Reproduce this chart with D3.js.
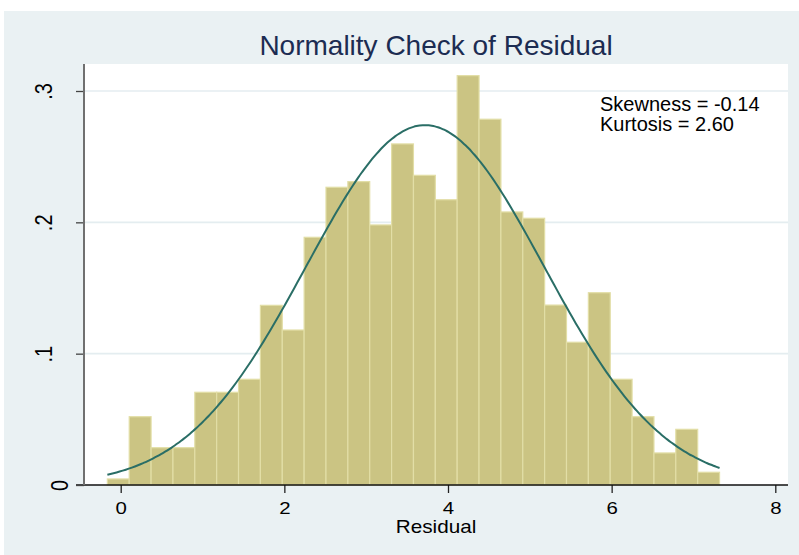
<!DOCTYPE html>
<html>
<head>
<meta charset="utf-8">
<script src="https://cdn.jsdelivr.net/npm/d3@7"></script>
<style>
  body { margin: 0; background: #ffffff; }
  text { font-family: "Liberation Sans", Arial, sans-serif; }
</style>
</head>
<body>
<div id="chart"></div>
<script>
// histogram of residuals (density scale)
var binStart = -0.163;
var binWidth = 0.2672;
var densities = [0.0046, 0.052, 0.0284, 0.0284, 0.0706, 0.0706, 0.0805, 0.1368,
  0.118, 0.1886, 0.2267, 0.231, 0.198, 0.2597, 0.2358, 0.2172, 0.3117, 0.2785,
  0.2079, 0.2031, 0.137, 0.1087, 0.1464, 0.0805, 0.052, 0.0244, 0.0424, 0.0097];
// fitted normal curve parameters
var normMean = 3.72;
var normSd = 1.456;
var xTicks = [0, 2, 4, 6, 8];
var yTicks = [0, 0.1, 0.2, 0.3];
var titleText = "Normality Check of Residual";
var xLabel = "Residual";
var statLines = ["Skewness = -0.14", "Kurtosis = 2.60"];

var svgWidth = 799;
var svgHeight = 555;
// plot region
var plot = { left: 84, right: 788, top: 64, bottom: 485 };

var svg = d3.select("#chart")
  .append("svg")
  .attr("width", svgWidth)
  .attr("height", svgHeight);

// outer graph region
svg.append("rect")
  .attr("x", 4).attr("y", 11)
  .attr("width", svgWidth - 4).attr("height", svgHeight - 11)
  .attr("fill", "#eaf1f3");

svg.append("rect")
  .attr("x", plot.left).attr("y", plot.top)
  .attr("width", plot.right - plot.left).attr("height", plot.bottom - plot.top)
  .attr("fill", "#ffffff");

var x = d3.scaleLinear()
  .domain([0, 8])
  .range([120.7, 775.3]);

var y = d3.scaleLinear()
  .domain([0, 0.3])
  .range([plot.bottom, 91]);

// gridlines
svg.append("g")
  .selectAll("line")
  .data(yTicks.filter(d => d > 0))
  .enter()
  .append("line")
    .attr("x1", plot.left).attr("x2", plot.right)
    .attr("y1", d => y(d)).attr("y2", d => y(d))
    .attr("stroke", "#e4edf0")
    .attr("stroke-width", 1.6);

// bars
var bins = densities.map((d, i) => ({ x0: binStart + i * binWidth, x1: binStart + (i + 1) * binWidth, h: d }));
svg.append("g")
  .selectAll("rect")
  .data(bins)
  .enter()
  .append("rect")
    .attr("x", d => x(d.x0))
    .attr("width", d => x(d.x1) - x(d.x0))
    .attr("y", d => y(d.h))
    .attr("height", d => y(0) - y(d.h))
    .attr("fill", "#cbc483")
    .attr("stroke", "#e2dea6")
    .attr("stroke-width", 1.2);

// normal density curve
var curveXs = d3.range(0, 201).map(i => binStart + i * (densities.length * binWidth) / 200);
var normPdf = v => Math.exp(-0.5 * Math.pow((v - normMean) / normSd, 2)) / (normSd * Math.sqrt(2 * Math.PI));
var line = d3.line()
  .x(d => x(d))
  .y(d => y(normPdf(d)))
  .curve(d3.curveMonotoneX);
svg.append("path")
  .datum(curveXs)
  .attr("d", line)
  .attr("fill", "none")
  .attr("stroke", "#2a6e66")
  .attr("stroke-width", 2);

// x axis
var xAxis = d3.axisBottom(x)
  .tickValues(xTicks)
  .tickSize(8)
  .tickPadding(9)
  .tickFormat(d3.format("d"));
var gx = svg.append("g")
  .attr("transform", `translate(0, ${plot.bottom})`)
  .call(xAxis);
gx.select(".domain").remove();
gx.append("line")
  .attr("x1", 76).attr("x2", plot.right)
  .attr("y1", 0).attr("y2", 0)
  .attr("stroke", "#111").attr("stroke-width", 1.6);
gx.selectAll(".tick line").attr("stroke", "#222").attr("stroke-width", 1.3);
gx.selectAll(".tick text")
  .attr("fill", "#000")
  .attr("transform", "scale(1.2,1)")
  .style("font-size", "17px")
  .style("font-family", "'Liberation Sans', Arial, sans-serif");

// y axis
var yAxis = d3.axisLeft(y)
  .tickValues(yTicks)
  .tickSize(8)
  .tickFormat(d => d === 0 ? "0" : d3.format(".1f")(d).replace(/^0/, ""));
var gy = svg.append("g")
  .attr("transform", `translate(${plot.left}, 0)`)
  .call(yAxis);
gy.select(".domain").remove();
gy.append("line")
  .attr("x1", 0).attr("x2", 0)
  .attr("y1", plot.top).attr("y2", plot.bottom)
  .attr("stroke", "#707070").attr("stroke-width", 2);
gy.selectAll(".tick line").attr("stroke", "#444").attr("stroke-width", 1.3);
gy.selectAll(".tick text")
  .attr("fill", "#000")
  .attr("x", null).attr("dy", null)
  .attr("text-anchor", "middle")
  .attr("transform", d => `translate(${d === 0 ? -16 : -32}, 0) rotate(-90) scale(1,1.15)`)
  .style("font-size", "20px")
  .style("font-family", "'Liberation Sans', Arial, sans-serif");

// title
svg.append("text")
  .attr("x", (plot.left + plot.right) / 2)
  .attr("y", 55)
  .attr("text-anchor", "middle")
  .attr("fill", "#1c2c52")
  .style("font-size", "28px")
  .text(titleText);

// x label
svg.append("text")
  .attr("transform", `translate(${(plot.left + plot.right) / 2}, 532.5) scale(1.15,1)`)
  .attr("text-anchor", "middle")
  .attr("fill", "#000")
  .style("font-size", "18px")
  .text(xLabel);

// skewness / kurtosis note
svg.append("g")
  .selectAll("text")
  .data(statLines)
  .enter()
  .append("text")
    .attr("x", 600)
    .attr("y", (d, i) => 110.5 + i * 20)
    .attr("fill", "#000")
    .style("font-size", "20px")
    .text(d => d);
</script>
</body>
</html>
